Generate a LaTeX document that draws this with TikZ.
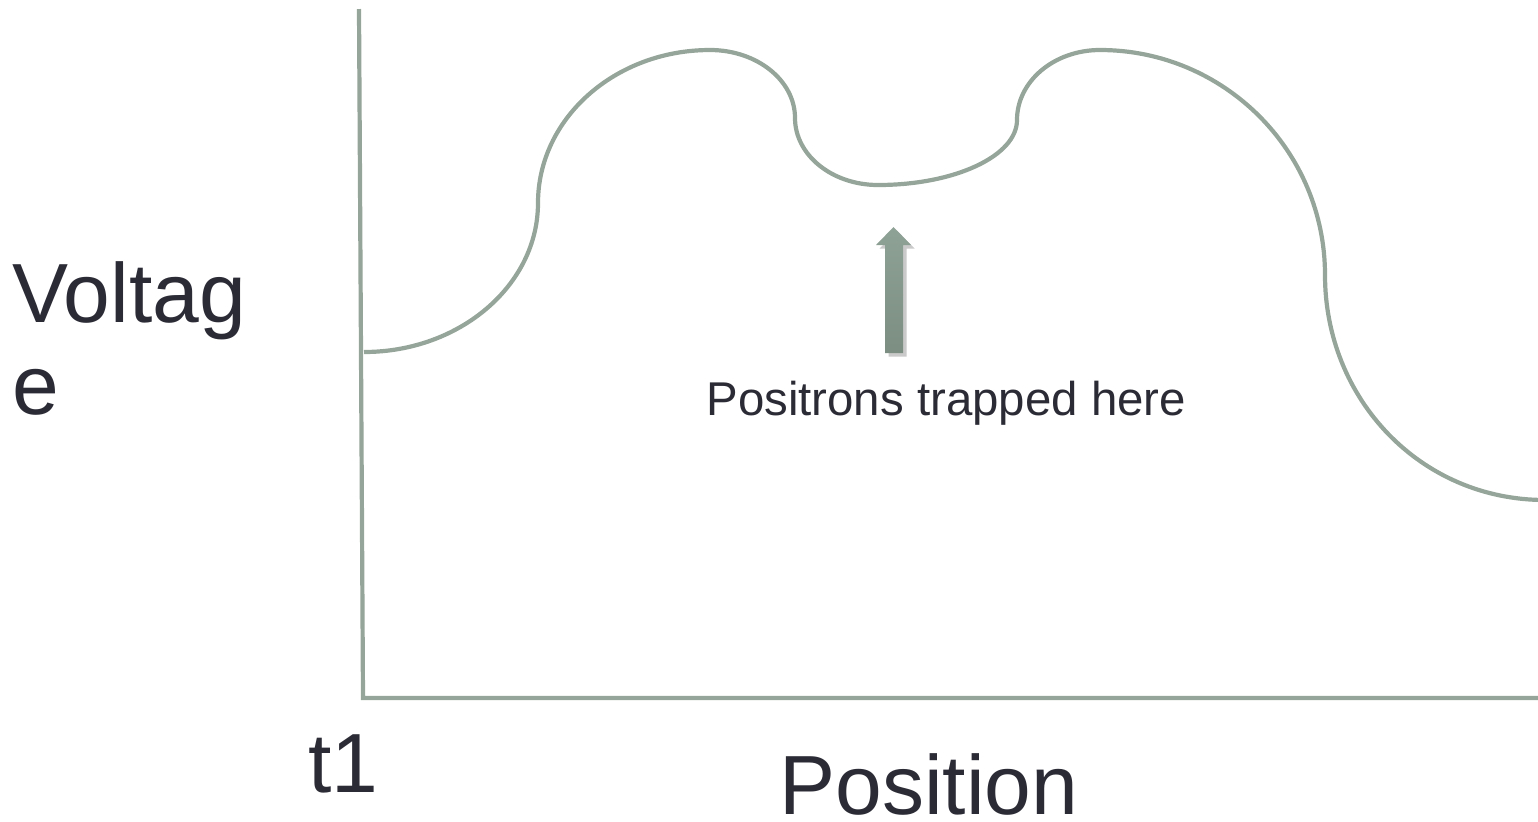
\documentclass[tikz,border=0pt]{standalone}
\usepackage{fontspec}
\setmainfont{Liberation Sans}
\usetikzlibrary{shadows}
\definecolor{curvegray}{HTML}{95A599}
\definecolor{txt}{HTML}{2B2B36}
\definecolor{arrtop}{HTML}{8FA296}
\definecolor{arrbot}{HTML}{7C8E82}
\tikzset{
  axisline/.style={draw=curvegray, line width=2.1pt},
  curveline/.style={draw=curvegray, line width=2.1pt},
  bigtext/.style={text=txt, inner sep=0pt, anchor=base west, font=\fontsize{42}{46}\selectfont},
  smalltext/.style={text=txt, inner sep=0pt, anchor=base west, font=\fontsize{23.7}{27}\selectfont},
  blockarrow/.style={top color=arrtop, bottom color=arrbot, draw=none,
    drop shadow={shadow xshift=1.8pt, shadow yshift=-1.8pt, opacity=0.35, fill=black!60}}
}
\begin{document}
\begin{tikzpicture}[x=0.5pt, y=-0.5pt]
\useasboundingbox (0,0) rectangle (1538,821);
\clip (0,0) rectangle (1538,821);
% axes
\coordinate (ytop) at (359,9);
\coordinate (origin) at (363,698);
\coordinate (xend) at (1540,698);
\draw[axisline] (ytop) -- (origin) -- (xend);
% potential curve
\draw[curveline] (364,352)
  .. controls (460,352) and (538,285) .. (538,203)
  .. controls (538,118.5) and (615,50) .. (710,50)
  .. controls (757,50) and (795,80.4) .. (795,118)
  .. controls (795,155) and (832,185) .. (878,185)
  .. controls (954.8,185) and (1017,155.9) .. (1017,120)
  .. controls (1017,81.3) and (1054,50) .. (1100,50)
  .. controls (1224,50) and (1325,150.7) .. (1325,275)
  .. controls (1325,399) and (1420.4,500) .. (1545,500);
% block arrow
\path[blockarrow] (885,353) -- (885,245) -- (876,245) -- (893.5,227) -- (911,245) -- (903,245) -- (903,353) -- cycle;
% labels
\node[bigtext] (v1) at (12,322) {Voltag};
\node[bigtext] (v2) at (12,414) {e};
\node[bigtext] (t1) at (308,792) {t1};
\node[bigtext] (pos) at (779,814) {Position};
\node[smalltext] (trap) at (706,415) {Positrons trapped here};
\end{tikzpicture}
\end{document}
